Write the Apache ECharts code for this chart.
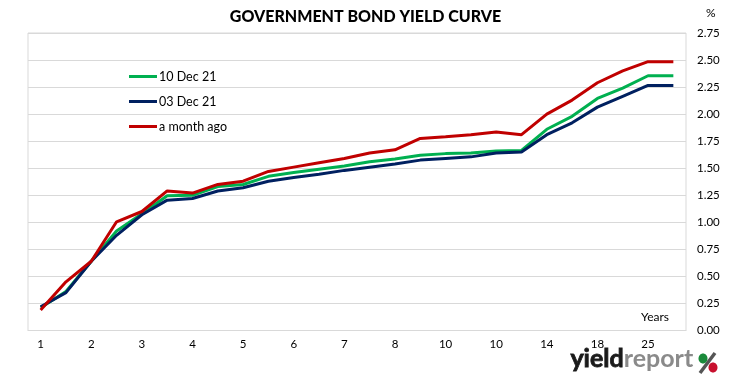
<!DOCTYPE html>
<html>
<head>
<meta charset="utf-8">
<script src="https://cdn.jsdelivr.net/npm/echarts@6/dist/echarts.min.js"></script>
<style>html,body{margin:0;padding:0;background:#fff}#c{width:731px;height:381px}</style>
</head>
<body>
<div id="c"></div>
<script>
const categories = ["1","1.5","2","2.5","3","3.5","4","4.5","5","5.5","6","6.5","7","7.5","8","9","10","10","10","12","14","16","18","20","25","30"];
const tickLabels = ["1","","2","","3","","4","","5","","6","","7","","8","","10","","10","","14","","18","","25",""];
const seriesNames = ["10 Dec 21","03 Dec 21","a month ago"];
const dec10 = [0.21,0.36,0.64,0.92,1.08,1.245,1.25,1.33,1.35,1.425,1.46,1.49,1.52,1.56,1.585,1.62,1.635,1.64,1.66,1.665,1.86,1.98,2.145,2.24,2.355,2.355];
const dec03 = [0.22,0.35,0.64,0.88,1.07,1.205,1.22,1.29,1.32,1.38,1.415,1.445,1.48,1.51,1.54,1.575,1.59,1.605,1.64,1.65,1.81,1.92,2.065,2.165,2.265,2.265];
const monthAgo = [0.19,0.45,0.64,1.005,1.10,1.29,1.27,1.35,1.38,1.47,1.51,1.55,1.59,1.64,1.67,1.775,1.79,1.81,1.835,1.81,2.0,2.13,2.29,2.40,2.485,2.485];

const FONT = 'Lato';
const colors = ['#00b050','#002060','#c00000'];
const chart = echarts.init(document.getElementById('c'));
chart.setOption({
  animation: false,
  textStyle: {fontFamily: FONT},
  title: {
    text: 'GOVERNMENT BOND YIELD CURVE',
    left: 'center', top: 4,
    textStyle: {fontFamily: FONT, fontWeight: 900, fontSize: 16, color: '#000'}
  },
  legend: {
    orient: 'vertical', left: 124, top: 65, itemGap: 12,
    itemWidth: 28, itemHeight: 3, icon: 'rect',
    textStyle: {fontFamily: FONT, fontSize: 12.5, color: '#000', padding: [0,0,0,-3]},
    data: seriesNames
  },
  grid: {left: 28, right: 45, top: 33, bottom: 50.5, show: true, borderColor: '#d9d9d9', borderWidth: 1},
  xAxis: {
    type: 'category', data: categories, boundaryGap: true,
    axisLine: {lineStyle: {color: '#d9d9d9'}},
    axisTick: {show: false},
    axisLabel: {interval: 0, color: '#000', fontSize: 11.5, margin: 8,
      formatter: (v, i) => tickLabels[i]}
  },
  yAxis: {
    type: 'value', position: 'right', min: 0, max: 2.75, interval: 0.25,
    axisLine: {show: false}, axisTick: {show: false},
    splitLine: {lineStyle: {color: '#d9d9d9'}},
    axisLabel: {color: '#000', fontSize: 11.5, margin: 11, formatter: v => v.toFixed(2)}
  },
  series: [dec10, dec03, monthAgo].map((d, k) => ({
    name: seriesNames[k], type: 'line', data: d, symbol: 'none',
    lineStyle: {width: 3, color: colors[k]}, itemStyle: {color: colors[k]}
  })),
  graphic: [
    {type: 'text', left: 706, top: 7, style: {text: '%', font: '12px ' + FONT, fill: '#000'}},
    {type: 'text', left: 641, top: 311, style: {text: 'Years', font: '12px ' + FONT, fill: '#000'}},
    {type: 'text', left: 570, top: 346, style: {
      text: '{a|yield}{b|report}',
      rich: {
        a: {fontWeight: 'bold', fontSize: 25, fontFamily: FONT, fill: '#1a1a1a', stroke: '#1a1a1a', lineWidth: 0.8},
        b: {fontWeight: 'bold', fontSize: 25, fontFamily: FONT, fill: '#8a8a8a'}
      }
    }},
    {type: 'line', shape: {x1: 715, y1: 353, x2: 700, y2: 373}, style: {stroke: '#555', lineWidth: 3.5}},
    {type: 'ellipse', shape: {cx: 703, cy: 358.5, rx: 4.5, ry: 5}, style: {fill: '#1a8a3a'}},
    {type: 'ellipse', shape: {cx: 713, cy: 367.5, rx: 4.5, ry: 5}, style: {fill: '#c8102e'}}
  ]
});
</script>
</body>
</html>
